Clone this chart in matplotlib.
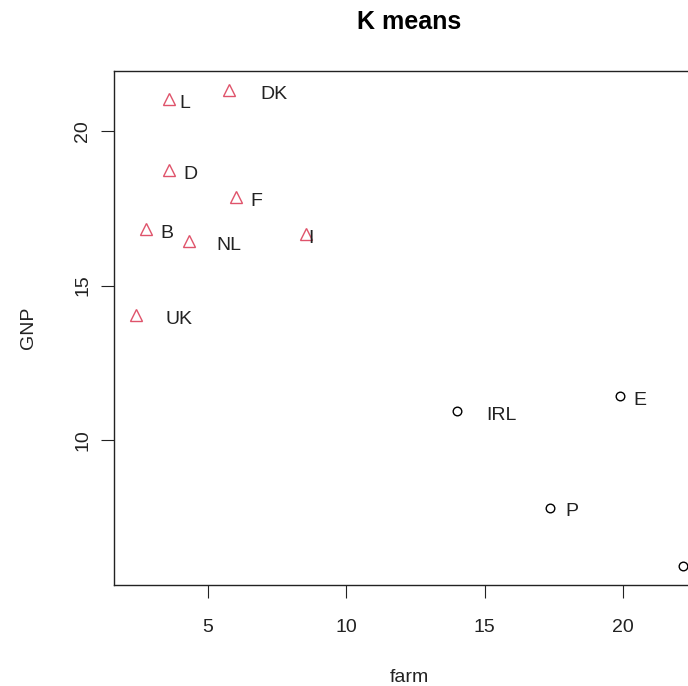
import matplotlib.pyplot as plt

plt.rcParams["font.family"] = ["Liberation Sans", "DejaVu Sans"]

# countries, % in farming vs GNP per head
countries = ["B", "DK", "D", "GR", "E", "F", "IRL", "I", "L", "NL", "P", "UK"]
farm = [2.75, 5.76, 3.59, 22.17, 19.89, 6.01, 13.99, 8.55, 3.59, 4.31, 17.36, 2.39]
gnp = [16.83, 21.33, 18.74, 5.92, 11.42, 17.86, 10.94, 16.67, 21.04, 16.44, 7.80, 14.05]
cluster = [2, 2, 2, 1, 1, 2, 1, 2, 2, 2, 1, 2]
# where the label text sits along farm
label_x = [3.51, 7.39, 4.38, 23.0, 20.62, 6.74, 15.62, 8.70, 4.17, 5.76, 18.15, 3.95]

fig = plt.figure(figsize=(6.88, 6.86), dpi=100)
# the plot box runs a little past the right edge of the image
ax = fig.add_axes([114 / 688, 101 / 686, 591 / 688, 514 / 686])

styles = {1: dict(marker="o", color="black", ms=6.2),
          2: dict(marker="^", color="#DF536B", ms=8.5)}
for c in (1, 2):
    xs = [f for f, k in zip(farm, cluster) if k == c]
    ys = [g for g, k in zip(gnp, cluster) if k == c]
    st = styles[c]
    ax.plot(xs, ys, linestyle="none", marker=st["marker"], ms=st["ms"],
            markerfacecolor="none", markeredgecolor=st["color"], mew=1.0)

for name, lx, y in zip(countries, label_x, gnp):
    ax.annotate(name, (lx, y), xytext=(0, -3), textcoords="offset points",
                ha="center", va="center", fontsize=14, color="#222222")

ax.set_xlim(1.60, 22.96)
ax.set_ylim(5.30, 21.95)
ax.set_xticks([5, 10, 15, 20])
ax.set_yticks([10, 15, 20])
ax.tick_params(axis="both", length=9.5, width=0.8, labelsize=14,
               colors="#222222")
ax.tick_params(axis="x", pad=15)
ax.tick_params(axis="y", pad=7)
plt.setp(ax.get_yticklabels(), rotation=90, va="center")
for sp in ax.spines.values():
    sp.set_linewidth(1.0)
    sp.set_color("#222222")

ax.set_xlabel("farm", fontsize=14, labelpad=23.5, color="#222222")
ax.set_ylabel("GNP", fontsize=14, labelpad=27, color="#222222")
ax.set_title("K means", fontsize=18, fontweight="bold", pad=30)

fig.savefig("out.png", dpi=100)
